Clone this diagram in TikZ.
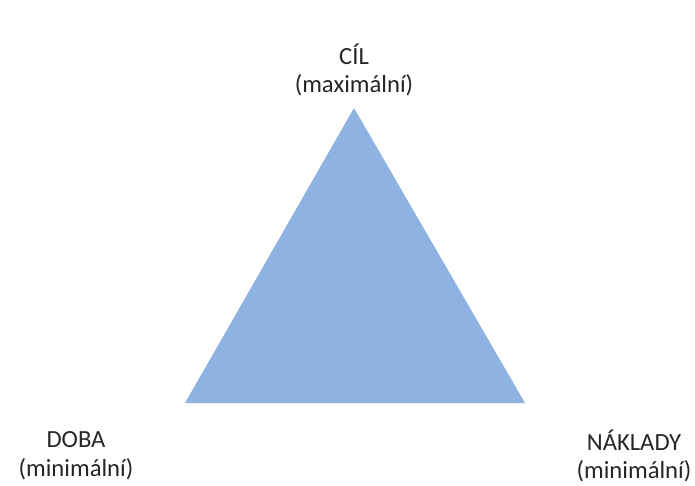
\documentclass[tikz,border=0pt]{standalone}
\usepackage{fontspec}
\setmainfont{Carlito}
\begin{document}
\begin{tikzpicture}[x=0.75pt, y=-0.75pt,
    label/.style={align=center, font=\fontsize{18.5}{21.5}\selectfont, text=black!85, inner sep=0pt}]

    \useasboundingbox (0,0) rectangle (695,485);

    \coordinate (T) at (354,108); % vrchol
    \coordinate (L) at (185,403);
    \coordinate (R) at (525,403);

    % trojúhelník
    \fill[fill={rgb,255:red,142;green,179;blue,226}] (T) -- (L) -- (R) -- cycle;

    % popisky
    \node[label] (cil)     at (354,70)  {CÍL\\(maximální)};
    \node[label] (doba)    at (76,456)  {DOBA\\(minimální)};
    \node[label] (naklady) at (634,456) {NÁKLADY\\(minimální)};

\end{tikzpicture}
\end{document}
